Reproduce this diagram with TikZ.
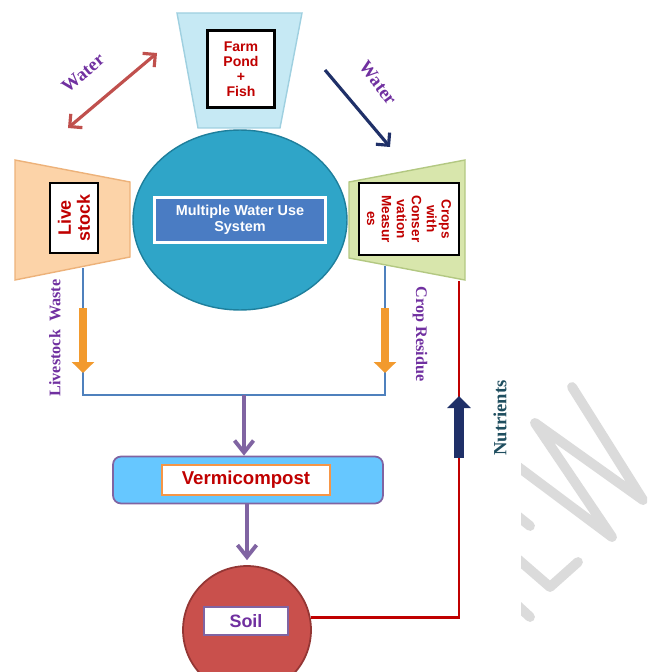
\documentclass[tikz,border=0pt]{standalone}
\usepackage{fontspec}
\setmainfont{Liberation Serif}
\newfontfamily\boxfont{Liberation Sans}
\usetikzlibrary{arrows.meta,shapes.geometric}

\definecolor{pondfill}{HTML}{C6E9F4}
\definecolor{pondedge}{HTML}{9FD0E0}
\definecolor{hubfill}{HTML}{2FA5C8}
\definecolor{hubedge}{HTML}{1E7F9C}
\definecolor{hubbox}{HTML}{4A7CC3}
\definecolor{stockfill}{HTML}{FCD3A8}
\definecolor{stockedge}{HTML}{EDB27A}
\definecolor{cropfill}{HTML}{D8E6AC}
\definecolor{cropedge}{HTML}{B3C882}
\definecolor{boxred}{HTML}{C00000}
\definecolor{labelpurple}{HTML}{7030A0}
\definecolor{pipeblue}{HTML}{4F81BD}
\definecolor{wasteorange}{HTML}{F29A2E}
\definecolor{flowpurple}{HTML}{8064A2}
\definecolor{vermifill}{HTML}{66C7FF}
\definecolor{vermiedge}{HTML}{F79646}
\definecolor{soilfill}{HTML}{C9504C}
\definecolor{soiledge}{HTML}{943634}
\definecolor{waterred}{HTML}{C0504D}
\definecolor{waternavy}{HTML}{1F3068}
\definecolor{nutrientteal}{HTML}{1F4E5F}

\begin{document}
\begin{tikzpicture}[
  x=0.02cm, y=-0.02cm,
  textbox/.style={draw=black, line width=1.4pt, fill=white, inner sep=0pt,
    align=center, text=boxred, font=\boxfont\bfseries\fontsize{8}{8.6}\selectfont},
  flowlabel/.style={text=labelpurple, font=\bfseries\fontsize{9.2}{10}\selectfont},
  waterlabel/.style={text=labelpurple, font=\bfseries\fontsize{10.5}{11}\selectfont},
  pipe/.style={pipeblue, line width=1.2pt},
  wastearrow/.style={wasteorange, line width=4.6pt, -{Triangle[length=2.2mm,width=4.4mm]}},
  flowarrow/.style={flowpurple, line width=2.2pt, -{Straight Barb[length=2.4mm,width=3.8mm]}},
  waterarrow/.style={line width=1.8pt, {Straight Barb[length=1.8mm,width=3.6mm]}-{Straight Barb[length=1.8mm,width=3.6mm]}}
]
\useasboundingbox (0,0) rectangle (647,672);

% watermark
\begin{scope}
\clip (521,360) rectangle (647,672);
\draw [gray!28, line width=5.6pt, line cap=round, line join=round]
  (505,457) -- (612,537) -- (535,423) -- (643,500) -- (572,387);
\draw [gray!28, line width=5.6pt, line cap=round] (500,502) -- (530,526);
\draw [gray!28, line width=5.6pt, line cap=round, line join=round]
  (505,548) -- (550,587) -- (578,562);
\draw [gray!28, line width=5.6pt, line cap=round] (505,594) -- (530,617);
\end{scope}

% blocks
\filldraw [fill=pondfill, draw=pondedge, line width=0.8pt]
  (177,13) -- (302,13) -- (280,128) -- (198,128) -- cycle;
\node [textbox, minimum width=1.34cm, minimum height=1.54cm] (pond) at (241,69)
  {Farm\\Pond\\+\\Fish};

\node [ellipse, fill=hubfill, draw=hubedge, line width=0.8pt,
  minimum width=4.28cm, minimum height=3.6cm] (hub) at (240,220) {};
\node [draw=white, line width=1.6pt, fill=hubbox, text=white, align=center,
  font=\boxfont\bfseries\fontsize{8.2}{9}\selectfont, inner sep=0pt,
  minimum width=3.42cm, minimum height=0.9cm] (hubtext) at (240,220)
  {Multiple Water Use\\System};

\filldraw [fill=stockfill, draw=stockedge, line width=0.8pt]
  (15,160) -- (130,182) -- (130,257) -- (15,280) -- cycle;
\node [textbox, rotate=90, minimum width=1.4cm, minimum height=0.96cm,
  font=\boxfont\bfseries\fontsize{10.2}{10.8}\selectfont] (stock) at (74,218)
  {Live\\stock};

\filldraw [fill=cropfill, draw=cropedge, line width=0.8pt]
  (349,182) -- (465,160) -- (465,280) -- (349,258) -- cycle;
\node [textbox, rotate=-90, minimum width=1.44cm, minimum height=2cm,
  font=\boxfont\bfseries\fontsize{7.7}{8.5}\selectfont] (crops) at (409,219)
  {Crops\\with\\Conser\\vation\\Measur\\es};

% water
\coordinate (pondleft) at (157,53);
\coordinate (stocktop) at (68,128);
\coordinate (pondright) at (325,70);
\coordinate (cropstop) at (390,147);
\draw [waterarrow, waterred] (stocktop) -- (pondleft);
\draw [line width=1.8pt, waternavy, -{Straight Barb[length=1.8mm,width=3.6mm]}]
  (pondright) -- (cropstop);
\node [waterlabel, rotate=40] (waterl) at (83,73) {Water};
\node [waterlabel, rotate=-53] (waterr) at (378,83) {Water};

% residues
\coordinate (stockout) at (83,268);
\coordinate (cropsout) at (385,266);
\coordinate (stockcorner) at (83,395);
\coordinate (cropscorner) at (385,395);
\coordinate (join) at (244,395);
\draw [pipe] (stockout) -- (stockcorner) -- (cropscorner) -- (cropsout);
\coordinate (ws) at (83,308);
\coordinate (we) at (83,373);
\coordinate (rs) at (385,308);
\coordinate (re) at (385,373);
\draw [wastearrow] (ws) -- (we);
\draw [wastearrow] (rs) -- (re);
\node [flowlabel, rotate=90] (wastelabel) at (55,338) {Livestock~~Waste};
\node [flowlabel, rotate=-90] (residuelabel) at (420,334) {Crop Residue};

% compost and soil
\node [draw=flowpurple, line width=1pt, fill=vermifill, rounded corners=0.16cm,
  minimum width=5.4cm, minimum height=0.94cm] (vermi) at (248,480) {};
\node [draw=vermiedge, line width=1pt, fill=white, text=boxred,
  font=\boxfont\bfseries\fontsize{10.6}{11}\selectfont, inner sep=0pt,
  minimum width=3.36cm, minimum height=0.6cm] (vermitext) at (246,480) {Vermicompost};
\draw [flowarrow] (join) -- (vermi.north -| join);

\node [circle, fill=soilfill, draw=soiledge, line width=1pt,
  minimum size=2.56cm] (soil) at (247,630) {};
\node [draw=flowpurple, line width=1pt, fill=white, text=labelpurple,
  font=\boxfont\bfseries\fontsize{10.2}{11}\selectfont, inner sep=0pt,
  minimum width=1.68cm, minimum height=0.56cm] (soiltext) at (246,621) {Soil};
\draw [flowarrow] ([xshift=-0.02cm]vermi.south) -- ([yshift=0.1cm]soil.north);

% nutrients
\coordinate (cropsfoot) at (459,281);
\draw [boxred, line width=1.5pt] (soil.11) -| (cropsfoot);
\coordinate (ns) at (459,458);
\coordinate (ne) at (459,396);
\draw [waternavy, line width=5.4pt, -{Triangle[length=2.4mm,width=4.6mm]}] (ns) -- (ne);
\node [rotate=90, text=nutrientteal, font=\bfseries\fontsize{10.6}{11}\selectfont]
  (nutrients) at (500,418) {Nutrients};
\end{tikzpicture}
\end{document}
